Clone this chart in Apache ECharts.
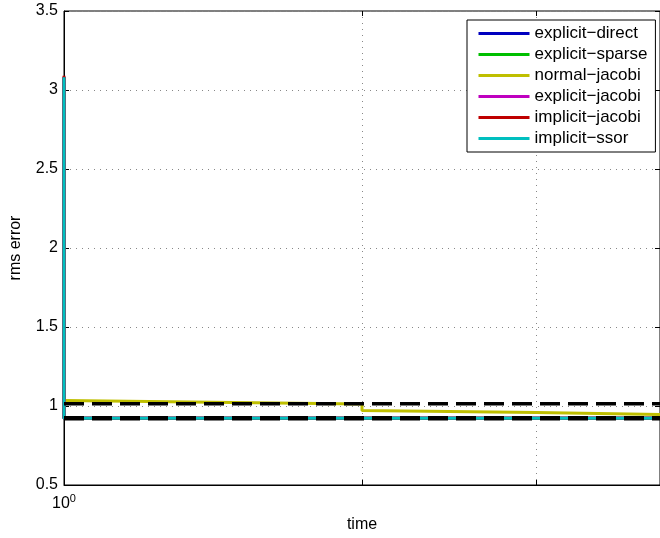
<!DOCTYPE html>
<html><head><meta charset="utf-8">
<script src="https://cdn.jsdelivr.net/npm/echarts@6/dist/echarts.min.js"></script>
<style>html,body{margin:0;padding:0;background:#fff}#c{width:660px;height:538px}</style>
</head><body><div id="c"></div>
<script>
// ---- data ----
const seriesNames = ['explicit−direct', 'explicit−sparse', 'normal−jacobi', 'explicit−jacobi', 'implicit−jacobi', 'implicit−ssor'];
const seriesColors = ['#0000bf', '#00bf00', '#bfbf00', '#bf00bf', '#bf0000', '#00bfbf'];
const tSpike = [1, 1, 4];
const explicitDirect = [3.08, 0.922, 0.922];
const explicitSparse = [3.08, 0.922, 0.922];
const explicitJacobi = [3.08, 0.922, 0.922];
const implicitJacobi = [3.09, 0.922, 0.922];
const implicitSsor = [3.08, 0.922, 0.922];
const tNormal = [1, 2, 2, 3, 3, 4];
const normalJacobi = [1.035, 1.013, 0.972, 0.959, 0.953, 0.946];
const tRef = [1, 4];
const refUpper = [1.014, 1.014];
const refLower = [0.922, 0.922];
const xTickValues = [1, 2, 3, 4];
const xLabelValues = [1];
const yMin = 0.5, yMax = 3.5, yStep = 0.5;
const xMin = 1, xMax = 4;

// ---- build ----
const pair = (t, v) => t.map((x, i) => [x, v[i]]);
const valuesByName = {
  'explicit−direct': [tSpike, explicitDirect],
  'explicit−sparse': [tSpike, explicitSparse],
  'normal−jacobi': [tNormal, normalJacobi],
  'explicit−jacobi': [tSpike, explicitJacobi],
  'implicit−jacobi': [tSpike, implicitJacobi],
  'implicit−ssor': [tSpike, implicitSsor]
};
const font = "'Liberation Sans', Arial, Helvetica, sans-serif";
const series = seriesNames.map((n, i) => ({
  name: n, type: 'line', symbol: 'none', clip: false,
  data: pair(valuesByName[n][0], valuesByName[n][1]),
  lineStyle: { color: seriesColors[i], width: 3 },
  itemStyle: { color: seriesColors[i] },
  emphasis: { disabled: true }
}));
series.push({ name: 'refUpper', type: 'line', symbol: 'none', clip: false,
  data: pair(tRef, refUpper), lineStyle: { color: '#000', width: 3.5, type: [20, 8] }, emphasis: { disabled: true } });
series.push({ name: 'refLower', type: 'line', symbol: 'none', clip: false,
  data: pair(tRef, refLower), lineStyle: { color: '#000', width: 4.5, type: [20, 8] }, emphasis: { disabled: true } });

const chart = echarts.init(document.getElementById('c'), null, { renderer: 'canvas' });
chart.setOption({
  animation: false,
  backgroundColor: '#fff',
  textStyle: { fontFamily: font },
  grid: { left: 63, top: 11, right: -1, bottom: 53, show: true, borderColor: '#000', borderWidth: 1, backgroundColor: 'transparent' },
  legend: {
    data: seriesNames, orient: 'vertical', left: 467, top: 20,
    padding: [5, 8, 5, 10], itemWidth: 51, itemHeight: 14, itemGap: 4,
    backgroundColor: '#fff', borderColor: '#000', borderWidth: 1,
    itemStyle: { opacity: 0 },
    lineStyle: { width: 3 },
    textStyle: { fontFamily: font, fontSize: 17, color: '#000' },
    selectedMode: false
  },
  xAxis: [{
    type: 'log', logBase: 10, min: xMin, max: xMax, position: 'bottom',
    name: 'time', nameLocation: 'middle', nameGap: 32,
    nameTextStyle: { fontFamily: font, fontSize: 16, color: '#000' },
    axisLine: { show: true, lineStyle: { color: '#000', width: 1 } },
    axisTick: { show: true, inside: true, length: 5, customValues: xTickValues, lineStyle: { color: '#000' } },
    axisLabel: { customValues: xLabelValues, margin: 8, color: '#000', fontFamily: font,
      formatter: v => '{b|10}{s|0}',
      rich: { b: { fontSize: 16, fontFamily: font, color: '#000' }, s: { fontSize: 11, fontFamily: font, color: '#000', padding: [0, 0, 10, 0] } } },
    splitLine: { show: true, lineStyle: { color: '#888', width: 1, type: [1, 5] } }
  }, {
    type: 'log', logBase: 10, min: xMin, max: xMax, position: 'top',
    axisLine: { show: false },
    axisTick: { show: true, inside: true, length: 5, customValues: xTickValues, lineStyle: { color: '#000' } },
    axisLabel: { show: false }, splitLine: { show: false }
  }],
  yAxis: [{
    type: 'value', min: yMin, max: yMax, interval: yStep, position: 'left',
    name: 'rms error', nameLocation: 'middle', nameGap: 40,
    nameTextStyle: { fontFamily: font, fontSize: 16, color: '#000' },
    axisLine: { show: true, lineStyle: { color: '#000', width: 1 } },
    axisTick: { show: true, inside: true, length: 5, lineStyle: { color: '#000' } },
    axisLabel: { margin: 6, color: '#000', fontFamily: font, fontSize: 16, formatter: v => String(+v.toFixed(1)) },
    splitLine: { show: true, lineStyle: { color: '#888', width: 1, type: [1, 5] } }
  }, {
    type: 'value', min: yMin, max: yMax, interval: yStep, position: 'right',
    axisLine: { show: false },
    axisTick: { show: true, inside: true, length: 5, lineStyle: { color: '#000' } },
    axisLabel: { show: false }, splitLine: { show: false }
  }],
  series: series
});
</script>
</body></html>
